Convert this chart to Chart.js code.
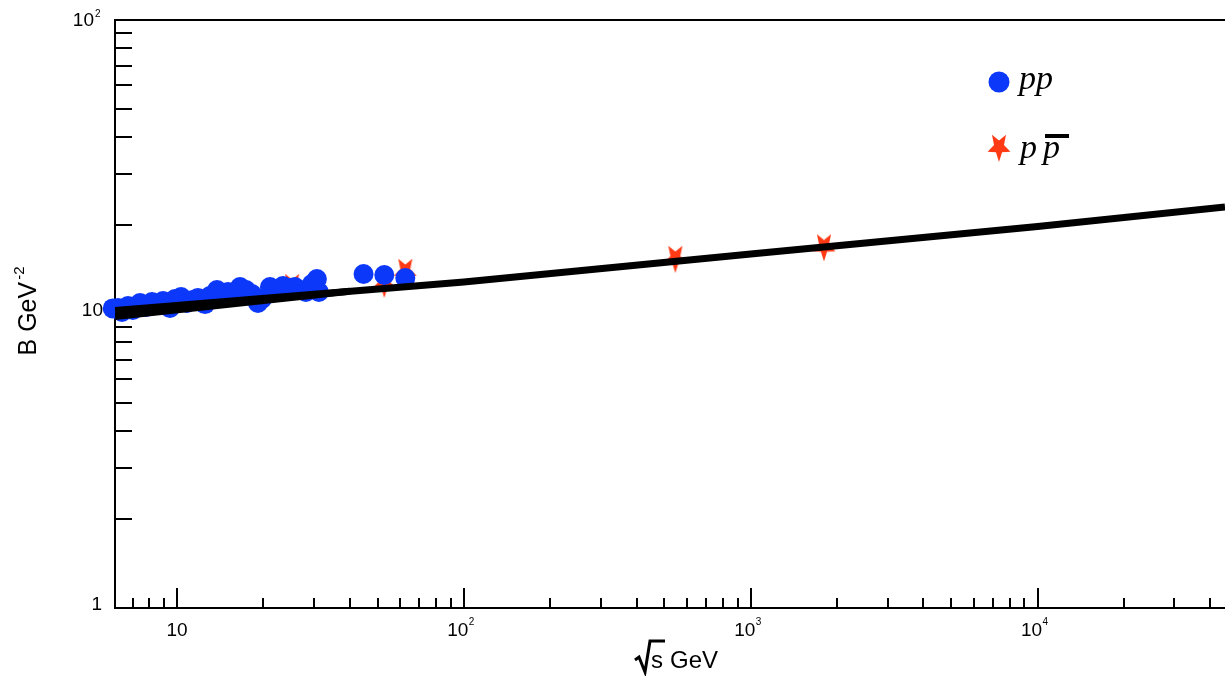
<!DOCTYPE html>
<html>
<head>
<meta charset="utf-8">
<script src="https://cdn.jsdelivr.net/npm/chart.js@4.4.1/dist/chart.umd.min.js"></script>
<style>
  html, body { margin: 0; padding: 0; background: #fff; }
  canvas { display: block; }
</style>
</head>
<body>
<canvas id="chart" width="1225" height="676"></canvas>
<script>
// pp: sqrt(s) [GeV] and slope B [GeV^-2]
const ppEnergy = [5.97, 6.23, 6.43, 6.75, 7.02, 7.43, 7.80, 8.18, 8.59, 8.94,
  9.45, 9.84, 10.33, 10.83, 11.37, 11.83, 12.52, 13.03, 13.79, 14.35,
  15.06, 15.80, 16.58, 17.40, 18.25, 19.15, 19.78, 21.09, 22.13, 23.41,
  24.56, 25.77, 26.83, 28.14, 29.53, 30.74, 31.24, 44.7, 52.8, 62.5];
const ppSlope = [10.45, 10.48, 10.16, 10.65, 10.32, 10.90, 10.56, 10.98, 10.73, 11.07,
  10.48, 11.25, 11.42, 10.90, 11.16, 11.34, 10.81, 11.51, 12.07, 11.70,
  11.88, 11.60, 12.35, 12.07, 11.70, 10.90, 11.25, 12.35, 12.07, 12.45,
  12.26, 12.35, 12.07, 11.88, 12.65, 13.15, 11.88, 13.68, 13.57, 13.26];

// p pbar
const pbarEnergy = [25.2, 52.8, 62.5, 546, 1800];
const pbarSlope = [12.45, 12.75, 14.0, 15.5, 16.97];

// fit curves
const fitEnergy = [6.08, 100, 1000, 10000, 45000];
const fitSlope = [10.28, 12.85, 16.0, 19.85, 23.1];
const lowFitEnergy = [6.08, 40];
const lowFitSlope = [9.8, 11.95];

const xMin = 6.08, xMax = 45000;
const yMin = 1, yMax = 100;

const BLUE = 'rgb(12, 56, 250)';
const RED = 'rgb(255, 58, 20)';

function toPoints(xs, ys) {
  return xs.map((v, i) => ({ x: v, y: ys[i] }));
}

// filled star, two tips up, one tip down
function makeStar(color) {
  const c = document.createElement('canvas');
  c.width = 26; c.height = 30;
  const g = c.getContext('2d');
  g.translate(13, 15);
  g.scale(1, 1.25);
  g.beginPath();
  for (let i = 0; i < 10; i++) {
    const r = i % 2 === 0 ? 12 : 5.2;
    const a = Math.PI / 2 + i * Math.PI / 5;
    const px = r * Math.cos(a), py = r * Math.sin(a);
    if (i === 0) g.moveTo(px, py); else g.lineTo(px, py);
  }
  g.closePath();
  g.fillStyle = color;
  g.fill();
  return c;
}
const starImg = makeStar(RED);

function isWhole(v) {
  const e = Math.floor(Math.log10(v) + 1e-9);
  const m = v / Math.pow(10, e);
  return Math.abs(m - Math.round(m)) < 1e-6;
}
function decadeExp(v) {
  const e = Math.round(Math.log10(v));
  return Math.abs(v - Math.pow(10, e)) < 1e-6 * v ? e : null;
}

// ticks inside the frame, top border
const axisFrame = {
  id: 'axisFrame',
  beforeDatasetsDraw(chart) {
    const { ctx, chartArea: a, scales: { x, y } } = chart;
    ctx.save();
    ctx.strokeStyle = '#000';
    ctx.lineWidth = 2;
    ctx.beginPath();
    ctx.moveTo(a.left - 1, a.top);
    ctx.lineTo(a.right, a.top);
    x.ticks.forEach(t => {
      if (!isWhole(t.value) || t.value <= xMin || t.value >= xMax) return;
      const px = Math.round(x.getPixelForValue(t.value));
      const len = decadeExp(t.value) !== null ? 20 : 10;
      ctx.moveTo(px, a.bottom);
      ctx.lineTo(px, a.bottom - len);
    });
    y.ticks.forEach(t => {
      if (!isWhole(t.value) || t.value > yMax) return;
      const py = Math.round(y.getPixelForValue(t.value));
      const len = decadeExp(t.value) !== null ? 34 : 17;
      ctx.moveTo(a.left, py);
      ctx.lineTo(a.left + len, py);
    });
    ctx.stroke();
    ctx.restore();
  },
  afterDraw(chart) {
    const { ctx, scales: { x, y } } = chart;
    ctx.save();
    ctx.fillStyle = '#000';
    ctx.strokeStyle = '#000';
    const labelFont = '19px "Liberation Sans", Arial, sans-serif';
    const supFont = '10px "Liberation Sans", Arial, sans-serif';

    // x tick labels
    x.ticks.forEach(t => {
      const e = decadeExp(t.value);
      if (e === null) return;
      const px = x.getPixelForValue(t.value);
      ctx.font = labelFont;
      ctx.textBaseline = 'middle';
      ctx.textAlign = 'center';
      if (e === 1) {
        ctx.fillText('10', px, 631);
      } else {
        ctx.fillText('10', px - 6, 631);
        ctx.font = supFont;
        ctx.textAlign = 'left';
        ctx.fillText(String(e), px + 5, 622);
      }
    });

    // y tick labels
    y.ticks.forEach(t => {
      const e = decadeExp(t.value);
      if (e === null) return;
      const py = y.getPixelForValue(t.value) - 3;
      ctx.font = labelFont;
      ctx.textBaseline = 'middle';
      ctx.textAlign = 'right';
      if (e === 0) ctx.fillText('1', 102, py);
      else if (e === 1) ctx.fillText('10', 103, py);
      else {
        ctx.fillText('10', 94, py + 4);
        ctx.font = supFont;
        ctx.textAlign = 'left';
        ctx.fillText(String(e), 95, py - 3);
      }
    });

    // x title: sqrt(s) GeV
    ctx.lineWidth = 3;
    ctx.lineJoin = 'miter';
    ctx.beginPath();
    ctx.moveTo(635, 660);
    ctx.lineTo(639, 657);
    ctx.lineTo(645, 672);
    ctx.lineTo(650, 641);
    ctx.lineTo(665, 641);
    ctx.stroke();
    ctx.font = '24px "Liberation Sans", Arial, sans-serif';
    ctx.textAlign = 'left';
    ctx.textBaseline = 'alphabetic';
    ctx.fillText('s', 651, 668);
    ctx.fillText('GeV', 670, 668);

    // y title: B GeV^-2
    ctx.save();
    ctx.translate(36, 311);
    ctx.rotate(-Math.PI / 2);
    ctx.font = '25px "Liberation Sans", Arial, sans-serif';
    const main = 'B GeV';
    const wMain = ctx.measureText(main).width;
    ctx.font = '15px "Liberation Sans", Arial, sans-serif';
    const wSup = ctx.measureText('-2').width;
    const x0 = -(wMain + wSup + 2) / 2;
    ctx.font = '25px "Liberation Sans", Arial, sans-serif';
    ctx.fillText(main, x0, 0);
    ctx.font = '15px "Liberation Sans", Arial, sans-serif';
    ctx.fillText('-2', x0 + wMain + 2, -12);
    ctx.restore();

    // legend
    ctx.fillStyle = BLUE;
    ctx.beginPath();
    ctx.arc(999, 82, 10.5, 0, Math.PI * 2);
    ctx.fill();
    ctx.drawImage(starImg, 999 - 13, 147 - 15);
    ctx.fillStyle = '#000';
    ctx.font = 'italic 34px "Liberation Serif", "Times New Roman", serif';
    ctx.fillText('pp', 1019, 89);
    ctx.fillText('p', 1020, 158);
    ctx.fillText('p', 1043, 158);
    ctx.fillRect(1045, 134, 24, 4);
    ctx.restore();
  }
};

new Chart(document.getElementById('chart'), {
  type: 'scatter',
  data: {
    datasets: [
      {
        label: 'fit',
        data: toPoints(fitEnergy, fitSlope),
        showLine: true,
        borderColor: '#000',
        borderWidth: 7,
        pointRadius: 0,
        order: 0
      },
      {
        label: 'fit low',
        data: toPoints(lowFitEnergy, lowFitSlope),
        showLine: true,
        borderColor: '#000',
        borderWidth: 7,
        pointRadius: 0,
        order: 0
      },
      {
        label: 'pp',
        data: toPoints(ppEnergy, ppSlope),
        pointStyle: 'circle',
        pointRadius: 10,
        pointBackgroundColor: BLUE,
        pointBorderWidth: 0,
        clip: false,
        order: 1
      },
      {
        label: 'p pbar',
        data: toPoints(pbarEnergy, pbarSlope),
        pointStyle: starImg,
        pointRadius: 12,
        clip: false,
        order: 2
      }
    ]
  },
  options: {
    responsive: false,
    animation: false,
    devicePixelRatio: 1,
    layout: { autoPadding: false, padding: { left: 115, top: 20, right: 0, bottom: 68 } },
    plugins: { legend: { display: false }, tooltip: { enabled: false } },
    scales: {
      x: {
        type: 'logarithmic',
        min: xMin,
        max: xMax,
        grid: { display: false, drawTicks: false },
        border: { display: true, color: '#000', width: 2 },
        ticks: { display: false }
      },
      y: {
        type: 'logarithmic',
        min: yMin,
        max: yMax,
        grid: { display: false, drawTicks: false },
        border: { display: true, color: '#000', width: 2 },
        ticks: { display: false }
      }
    }
  },
  plugins: [axisFrame]
});
</script>
</body>
</html>
